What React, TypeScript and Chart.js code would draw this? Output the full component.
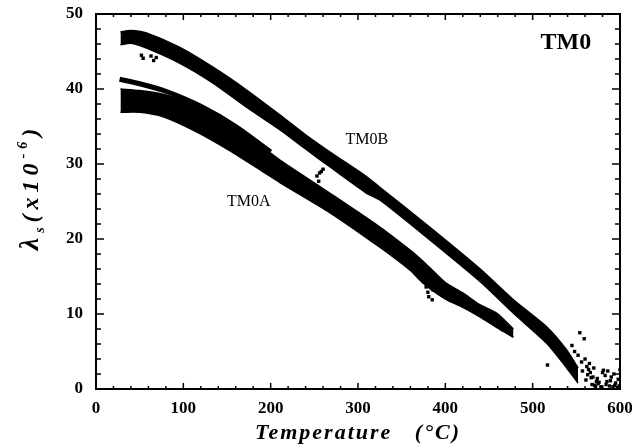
import React, { useEffect, useRef } from "react";
import { Chart, registerables } from "chart.js";

Chart.register(...registerables);

const FONT = '"Liberation Serif", "Times New Roman", serif';

// Axis ranges and ticks
const xMin = 0;
const xMax = 600;
const xStep = 100;
const yMin = 0;
const yMax = 50;
const yStep = 10;

// TM0B band (upper), edges
const tm0bT = [28, 40, 57, 95, 134, 172, 210, 240, 268, 310, 325, 382, 440, 478, 516, 539, 552];
const tm0bTop = [47.6, 47.8, 47.5, 45.6, 42.9, 39.9, 36.6, 33.9, 31.6, 28.3, 26.9, 21.6, 16.0, 11.9, 8.3, 5.2, 2.8];
const tm0bBottom = [45.9, 46.1, 45.5, 43.5, 40.8, 37.6, 34.6, 32.0, 29.6, 26.1, 25.2, 19.9, 14.3, 10.1, 6.1, 2.8, 0.8];

// TM0A thin upper line
const line1T = [27, 50, 80, 120, 160, 200];
const line1Y = [41.3, 40.7, 39.7, 37.7, 35.0, 31.6];

// TM0A main band
const tm0aT = [28, 50, 77, 115, 153, 191, 211, 268, 325, 360, 371, 382, 400, 420, 440, 459, 478];
const tm0aTop = [40.0, 39.8, 39.3, 37.8, 35.3, 32.2, 30.5, 26.1, 21.6, 18.5, 17.4, 16.2, 14.2, 12.8, 11.2, 10.1, 8.0];
const tm0aBottom = [36.9, 36.9, 36.3, 34.3, 31.8, 29.0, 27.5, 23.5, 18.9, 15.8, 14.5, 13.4, 12.0, 10.9, 9.6, 8.2, 6.9];

// Scattered points
const scatterT = [52, 54, 63, 66, 69, 253, 255, 256, 258, 260, 372, 375, 378, 380, 381, 384, 386, 385, 392, 397,
  517, 545, 548, 552, 554, 556, 559, 560, 562, 564, 565, 566, 568, 570, 572, 574, 576, 578, 580, 581, 583, 585,
  586, 588, 590, 592, 593, 595, 597, 598, 600, 561, 567, 571, 575, 579, 584, 589, 594, 599, 557, 563, 569, 573];
const scatterY = [44.5, 44.1, 44.4, 43.8, 44.2, 28.4, 27.7, 28.8, 29.0, 29.3, 15.0, 14.3, 13.6, 12.9, 12.3, 14.0,
  13.2, 11.9, 14.6, 14.2, 3.2, 5.8, 5.0, 4.5, 7.5, 3.6, 6.7, 4.0, 3.0, 2.6, 3.4, 2.2, 0.6, 2.8, 0.3, 1.4, 0.9, 0.2,
  2.2, 2.5, 1.8, 1.0, 2.4, 0.4, 1.6, 0.3, 2.0, 0.8, 0.2, 1.3, 2.6, 1.2, 1.5, 0.5, 0.7, 0.3, 0.6, 1.1, 0.5, 0.4,
  2.4, 1.9, 1.6, 1.0];

// Annotations
const labelTexts = ["TM0", "TM0B", "TM0A"];
const labelT = [538, 310, 175];
const labelY = [46.1, 33.2, 25.0];

export default function App() {
  const ref = useRef<HTMLCanvasElement>(null);

  useEffect(() => {
    const canvas = ref.current;
    if (!canvas) return;
    const pts = (xs: number[], ys: number[]) => xs.map((x, i) => ({ x, y: ys[i] }));
    const black = "#000";
    const edge = (data: any, fill: any) => ({
      type: "line",
      data,
      borderColor: black,
      backgroundColor: black,
      borderWidth: 1.5,
      pointRadius: 0,
      fill,
      tension: 0.25,
    });

    const framePlugin = {
      id: "frame",
      afterDraw(chart: any) {
        const { ctx, chartArea } = chart;
        const xs = chart.scales.x;
        const ys = chart.scales.y;
        const { left, right, top, bottom } = chartArea;
        ctx.save();
        ctx.strokeStyle = black;
        ctx.lineWidth = 2;
        ctx.strokeRect(left, top, right - left, bottom - top);
        ctx.lineWidth = 1.5;
        for (let v = xMin; v <= xMax; v += 20) {
          const p = xs.getPixelForValue(v);
          const len = v % 100 === 0 ? 6 : 3;
          ctx.beginPath();
          ctx.moveTo(p, bottom);
          ctx.lineTo(p, bottom - len);
          ctx.moveTo(p, top);
          ctx.lineTo(p, top + len);
          ctx.stroke();
        }
        for (let v = yMin; v <= yMax; v += 2) {
          const p = ys.getPixelForValue(v);
          const len = v % 10 === 0 ? 8 : 5;
          ctx.beginPath();
          ctx.moveTo(left, p);
          ctx.lineTo(left + len, p);
          ctx.moveTo(right, p);
          ctx.lineTo(right - len, p);
          ctx.stroke();
        }
        // annotations
        ctx.fillStyle = black;
        ctx.textAlign = "center";
        ctx.textBaseline = "middle";
        labelTexts.forEach((t, i) => {
          ctx.font = i === 0 ? `bold 24px ${FONT}` : `16px ${FONT}`;
          ctx.fillText(t, xs.getPixelForValue(labelT[i]), ys.getPixelForValue(labelY[i]));
        });
        // x title
        ctx.font = `bold italic 22px ${FONT}`;
        (ctx as any).letterSpacing = "2px";
        ctx.textAlign = "center";
        ctx.textBaseline = "alphabetic";
        ctx.fillText("Temperature   (°C)", (left + right) / 2, 439);
        // y title
        ctx.save();
        ctx.translate(38, 187);
        ctx.rotate(-Math.PI / 2);
        (ctx as any).letterSpacing = "5px";
        const parts: [string, number, number][] = [
          ["λ", 28, 0],
          ["s", 14, 6],
          ["(x10", 24, 0],
          ["-6", 14, -11],
          [")", 24, 0],
        ];
        let total = 0;
        const widths = parts.map(([s, size]) => {
          ctx.font = `bold italic ${size}px ${FONT}`;
          const w = ctx.measureText(s).width;
          total += w;
          return w;
        });
        let x = -total / 2;
        ctx.textAlign = "left";
        parts.forEach(([s, size, dy], i) => {
          ctx.font = `bold italic ${size}px ${FONT}`;
          ctx.fillText(s, x, dy);
          x += widths[i];
        });
        ctx.restore();
        ctx.restore();
      },
    };

    const tickFont = { family: FONT, size: 17, weight: "bold" as const };

    const chart = new Chart(canvas, {
      type: "line",
      data: {
        datasets: [
          edge(pts(tm0bT, tm0bBottom), false),
          edge(pts(tm0bT, tm0bTop), "-1"),
          edge(pts(tm0aT, tm0aBottom), false),
          edge(pts(tm0aT, tm0aTop), "-1"),
          {
            type: "line",
            data: pts(line1T, line1Y),
            borderColor: black,
            borderWidth: 5,
            pointRadius: 0,
            fill: false,
            tension: 0.25,
          },
          {
            type: "scatter",
            data: pts(scatterT, scatterY),
            pointStyle: "rect",
            pointRadius: 2.4,
            backgroundColor: black,
            borderWidth: 0,
          },
        ] as any,
      },
      options: {
        responsive: false,
        animation: false,
        layout: { padding: { left: 0, right: 18, top: 14, bottom: 0 } },
        plugins: { legend: { display: false }, tooltip: { enabled: false } },
        scales: {
          x: {
            type: "linear",
            min: xMin,
            max: xMax,
            grid: { display: false, drawTicks: false },
            border: { display: false },
            ticks: { stepSize: xStep, padding: 9, color: black, font: tickFont, maxRotation: 0 },
            afterFit: (s: any) => {
              s.height = 446 - 389;
              s.paddingLeft = 0;
              s.paddingRight = 0;
            },
          },
          y: {
            type: "linear",
            min: yMin,
            max: yMax,
            grid: { display: false, drawTicks: false },
            border: { display: false },
            ticks: { stepSize: yStep, padding: 13, color: black, font: tickFont },
            afterFit: (s: any) => {
              s.width = 96;
              s.paddingTop = 0;
              s.paddingBottom = 0;
            },
          },
        },
      } as any,
      plugins: [framePlugin],
    });
    return () => chart.destroy();
  }, []);

  return (
    <div style={{ position: "fixed", left: 0, top: 0, width: 638, height: 446, background: "#fff" }}>
      <canvas ref={ref} width={638} height={446} style={{ display: "block" }} />
    </div>
  );
}
